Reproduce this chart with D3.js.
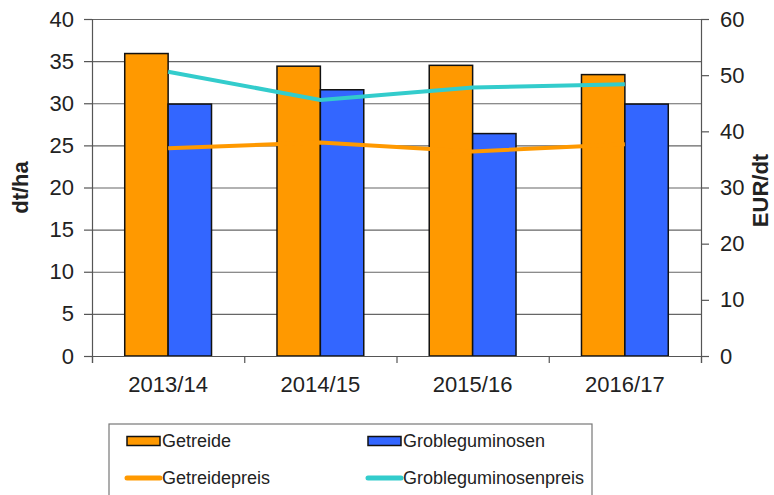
<!DOCTYPE html>
<html>
<head>
<meta charset="utf-8">
<script src="https://cdn.jsdelivr.net/npm/d3@7"></script>
<style>
  body { margin: 0; background: #fff; }
  text { font-family: "Liberation Sans", Arial, sans-serif; fill: #222; }
  .axis path, .axis line { stroke: #555; stroke-width: 1.2; }
  .grid line { stroke: #666; stroke-width: 1.2; }
  .grid path { display: none; }
</style>
</head>
<body>
<div id="chart"></div>
<script>
// categories and values
var years = ["2013/14", "2014/15", "2015/16", "2016/17"];
var getreide = [35.9, 34.4, 34.5, 33.4];
var grobleguminosen = [29.9, 31.6, 26.4, 29.9];
var getreidepreis = [37.0, 38.0, 36.4, 37.7];
var grobleguminosenpreis = [50.6, 45.6, 47.8, 48.4];
var leftTicks = [0, 5, 10, 15, 20, 25, 30, 35, 40];
var rightTicks = [0, 10, 20, 30, 40, 50, 60];

var W = 774, H = 495;
var margin = {top: 19, right: 73, bottom: 139, left: 92};
var width = W - margin.left - margin.right,
    height = H - margin.top - margin.bottom;

var svg = d3.select("#chart").append("svg")
    .attr("width", W)
    .attr("height", H)
  .append("g")
    .attr("transform", "translate(" + margin.left + "," + margin.top + ")");

// scales
var x = d3.scaleBand().domain(years).range([0, width]);
var yL = d3.scaleLinear().domain([0, 40]).range([height, 0]);
var yR = d3.scaleLinear().domain([0, 60]).range([height, 0]);
var barW = x.bandwidth() * 0.285;

// y grid
svg.append("g")
    .attr("class", "grid")
    .call(d3.axisLeft(yL).tickValues(leftTicks).tickSize(-width).tickFormat(""));

// bars
var cats = years.map(function(d, i) {
  return {year: d, g: getreide[i], l: grobleguminosen[i]};
});

svg.selectAll(".bar-g")
    .data(cats)
  .enter().append("rect")
    .attr("class", "bar-g")
    .attr("x", function(d) { return x(d.year) + x.bandwidth() / 2 - barW; })
    .attr("y", function(d) { return yL(d.g); })
    .attr("width", barW)
    .attr("height", function(d) { return height - yL(d.g); })
    .style("fill", "#ff9900")
    .style("stroke", "#111")
    .style("stroke-width", 1.5);

svg.selectAll(".bar-l")
    .data(cats)
  .enter().append("rect")
    .attr("class", "bar-l")
    .attr("x", function(d) { return x(d.year) + x.bandwidth() / 2; })
    .attr("y", function(d) { return yL(d.l); })
    .attr("width", barW)
    .attr("height", function(d) { return height - yL(d.l); })
    .style("fill", "#3366ff")
    .style("stroke", "#111")
    .style("stroke-width", 1.5);

// price lines
var line = d3.line()
    .x(function(d, i) { return x(years[i]) + x.bandwidth() / 2; })
    .y(function(d) { return yR(d); });

svg.append("path")
    .datum(getreidepreis)
    .attr("d", line)
    .style("fill", "none")
    .style("stroke", "#ff9900")
    .style("stroke-width", 4);

svg.append("path")
    .datum(grobleguminosenpreis)
    .attr("d", line)
    .style("fill", "none")
    .style("stroke", "#33cccc")
    .style("stroke-width", 4);

// axes
var left = svg.append("g")
    .attr("class", "axis")
    .call(d3.axisLeft(yL).tickValues(leftTicks).tickSize(8).tickPadding(10));
left.selectAll("text").style("font-size", "22px");

var right = svg.append("g")
    .attr("class", "axis")
    .attr("transform", "translate(" + width + ",0)")
    .call(d3.axisRight(yR).tickValues(rightTicks).tickSize(8).tickPadding(11));
right.selectAll("text").style("font-size", "22px");

// x axis with ticks at category boundaries
var xb = d3.scaleLinear().domain([0, years.length]).range([0, width]);
svg.append("g")
    .attr("class", "axis")
    .attr("transform", "translate(0," + height + ")")
    .call(d3.axisBottom(xb).ticks(4).tickSize(7).tickFormat(""));

svg.selectAll(".xlabel")
    .data(years)
  .enter().append("text")
    .attr("class", "xlabel")
    .attr("x", function(d) { return x(d) + x.bandwidth() / 2; })
    .attr("y", height + 36)
    .attr("text-anchor", "middle")
    .style("font-size", "22px")
    .text(function(d) { return d; });

// axis titles
svg.append("text")
    .attr("transform", "translate(" + (-64) + "," + (height / 2) + ") rotate(-90)")
    .attr("text-anchor", "middle")
    .style("font-size", "22px")
    .style("font-weight", "bold")
    .text("dt/ha");

svg.append("text")
    .attr("transform", "translate(" + (width + 67) + "," + (height / 2 + 3) + ") rotate(-90)")
    .attr("text-anchor", "middle")
    .style("font-size", "22px")
    .style("font-weight", "bold")
    .text("EUR/dt");

// legend
var lg = d3.select("svg").append("g").attr("transform", "translate(109,424)");
lg.append("rect")
    .attr("width", 483)
    .attr("height", 80)
    .style("fill", "#fff")
    .style("stroke", "#777")
    .style("stroke-width", 1.2);

var items = [
  {name: "Getreide", type: "bar", color: "#ff9900", col: 0, row: 0},
  {name: "Grobleguminosen", type: "bar", color: "#3366ff", col: 1, row: 0},
  {name: "Getreidepreis", type: "line", color: "#ff9900", col: 0, row: 1},
  {name: "Grobleguminosenpreis", type: "line", color: "#33cccc", col: 1, row: 1}
];

var li = lg.selectAll(".legend-item")
    .data(items)
  .enter().append("g")
    .attr("class", "legend-item")
    .attr("transform", function(d) {
      return "translate(" + (18 + d.col * 241) + "," + (17 + d.row * 37) + ")";
    });

li.filter(function(d) { return d.type == "bar"; })
  .append("rect")
    .attr("x", 0).attr("y", -4.5)
    .attr("width", 33).attr("height", 9)
    .style("fill", function(d) { return d.color; })
    .style("stroke", "#111")
    .style("stroke-width", 1.5);

li.filter(function(d) { return d.type == "line"; })
  .append("line")
    .attr("x1", 0).attr("x2", 33)
    .style("stroke", function(d) { return d.color; })
    .style("stroke-width", 5)
    .style("stroke-linecap", "round");

li.append("text")
    .attr("x", 35)
    .attr("dy", "0.35em")
    .style("font-size", "18px")
    .text(function(d) { return d.name; });
</script>
</body>
</html>
